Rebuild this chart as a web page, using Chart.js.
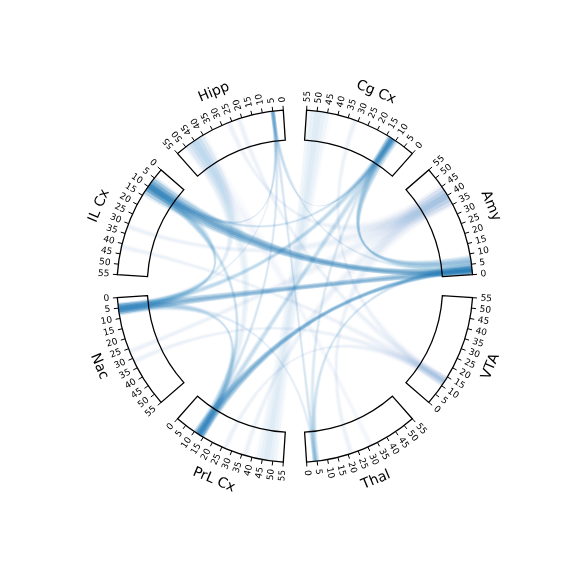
<!DOCTYPE html>
<html><head><meta charset="utf-8">
<script src="https://cdn.jsdelivr.net/npm/chart.js@4"></script>
<style>html,body{margin:0;padding:0;background:#fff}</style>
</head><body>
<canvas id="c" width="576" height="576"></canvas>
<script>
// ---- data ----
const segments = ["Amy", "Cg Cx", "Hipp", "IL Cx", "Nac", "PrL Cx", "Thal", "VTA"];
const segLength = 55;
const tickValues = [0, 5, 10, 15, 20, 25, 30, 35, 40, 45, 50, 55];
// links: source segment + range, target segment + range, strength
const linkSrc     = ["Amy","Amy","Amy","Amy","Cg Cx","Cg Cx","Cg Cx","Cg Cx","Hipp","Hipp","Hipp","Hipp","Thal","Thal","Nac","Nac","Nac","Nac","IL Cx","Cg Cx","Hipp","Hipp","Hipp",
                     "Amy","Amy","Amy","Amy","Amy","VTA","VTA","VTA","VTA","VTA"];
const linkSrcFrom = [0, 0, 1, 4, 10, 10, 11, 10, 4, 4, 4, 4, 3, 3, 3, 3, 3, 4, 8, 44, 40, 40, 40,
                     35, 35, 35, 35, 35, 10, 10, 10, 10, 10];
const linkSrcTo   = [4, 4, 4, 9, 14, 14, 13, 13, 6, 6, 6, 6, 6, 6, 8, 8, 7, 7, 12, 55, 50, 50, 50,
                     45, 45, 45, 45, 45, 15, 15, 15, 15, 15];
const linkDst     = ["IL Cx","Nac","PrL Cx","Cg Cx","PrL Cx","Nac","Hipp","IL Cx","IL Cx","Thal","PrL Cx","Amy","Amy","Cg Cx","IL Cx","PrL Cx","Thal","Hipp","PrL Cx","PrL Cx","Nac","PrL Cx","Thal",
                     "IL Cx","Nac","PrL Cx","Thal","Hipp","IL Cx","Nac","Hipp","Cg Cx","PrL Cx"];
const linkDstFrom = [5, 3, 10, 9, 11, 3, 4, 8, 8, 3, 11, 2, 3, 11, 6, 10, 3, 4, 11, 42, 3, 10, 30,
                     30, 25, 35, 20, 25, 40, 30, 20, 30, 25];
const linkDstTo   = [14, 8, 15, 14, 15, 7, 6, 11, 12, 5, 14, 5, 6, 14, 12, 15, 5, 6, 15, 52, 8, 15, 33,
                     33, 28, 38, 23, 28, 43, 33, 23, 33, 28];
const linkStrength= [0.75, 0.6, 0.7, 0.5, 0.25, 0.3, 0.18, 0.2, 0.18, 0.18, 0.18, 0.14, 0.2, 0.15, 0.3, 0.25, 0.12, 0.1, 0.22, 0.12, 0.12, 0.1, 0.06,
                     0.08, 0.08, 0.08, 0.08, 0.08, 0.08, 0.08, 0.08, 0.08, 0.08];

// ---- layout ----
const firstStartDeg = 3.75, segStepDeg = 45, segSpanDeg = 37.5;
const rOuter = 1.0, rInner = 0.83, rTick = 1.025, rTickLabel = 1.045, rName = 1.19;
const rgb = "31,119,180";

const chordPlugin = {
  id: 'chord',
  afterDatasetsDraw(chart) {
    const ctx = chart.ctx;
    const xs = chart.scales.x, ys = chart.scales.y;
    const cx = xs.getPixelForValue(0), cy = ys.getPixelForValue(0);
    const kx = xs.getPixelForValue(1) - cx, ky = cy - ys.getPixelForValue(1);
    const rad = d => d * Math.PI / 180;
    const P = (r, deg) => [xs.getPixelForValue(r * Math.cos(rad(deg))), ys.getPixelForValue(r * Math.sin(rad(deg)))];
    const segIdx = name => segments.indexOf(name);
    const ang = (seg, v) => firstStartDeg + seg * segStepDeg + v / segLength * segSpanDeg;

    function ribbon(s, a1, a2, t, b1, b2, alpha) {
      const A1 = ang(s, a1), A2 = ang(s, a2), B1 = ang(t, b1), B2 = ang(t, b2);
      ctx.beginPath();
      let p = P(rOuter, A1);
      ctx.moveTo(p[0], p[1]);
      p = P(rOuter, B2);
      ctx.quadraticCurveTo(cx, cy, p[0], p[1]);
      ctx.ellipse(cx, cy, rOuter * kx, rOuter * ky, 0, -rad(B2), -rad(B1), false);
      p = P(rOuter, A2);
      ctx.quadraticCurveTo(cx, cy, p[0], p[1]);
      ctx.ellipse(cx, cy, rOuter * kx, rOuter * ky, 0, -rad(A2), -rad(A1), false);
      ctx.closePath();
      ctx.fillStyle = `rgba(${rgb},${alpha})`;
      ctx.fill();
    }
    ctx.save();
    const layers = [[1.25, 0.15], [1.0, 0.35], [0.65, 0.33], [0.3, 0.33]];
    for (let i = 0; i < linkSrc.length; i++) {
      const s = segIdx(linkSrc[i]), t = segIdx(linkDst[i]);
      const am = (linkSrcFrom[i] + linkSrcTo[i]) / 2, aw = (linkSrcTo[i] - linkSrcFrom[i]) / 2;
      const bm = (linkDstFrom[i] + linkDstTo[i]) / 2, bw = (linkDstTo[i] - linkDstFrom[i]) / 2;
      for (const [f, k] of layers) {
        const lo = Math.max(0, am - aw * f), hi = Math.min(segLength, am + aw * f);
        const lo2 = Math.max(0, bm - bw * f), hi2 = Math.min(segLength, bm + bw * f);
        ribbon(s, lo, hi, t, lo2, hi2, linkStrength[i] * k);
      }
    }

    ctx.strokeStyle = '#000';
    ctx.fillStyle = '#000';
    for (let k = 0; k < segments.length; k++) {
      const s = ang(k, 0), e = ang(k, segLength);
      ctx.lineWidth = 1.3;
      ctx.beginPath();
      let p = P(rInner, s); ctx.moveTo(p[0], p[1]);
      p = P(rOuter, s); ctx.lineTo(p[0], p[1]);
      ctx.ellipse(cx, cy, rOuter * kx, rOuter * ky, 0, -rad(s), -rad(e), true);
      p = P(rInner, e); ctx.lineTo(p[0], p[1]);
      ctx.ellipse(cx, cy, rInner * kx, rInner * ky, 0, -rad(e), -rad(s), false);
      ctx.closePath();
      ctx.stroke();

      ctx.lineWidth = 1;
      ctx.font = '9px "DejaVu Sans"';
      for (const v of tickValues) {
        const d = ang(k, v);
        const p0 = P(rOuter, d), p1 = P(rTick, d), pl = P(rTickLabel, d);
        ctx.beginPath(); ctx.moveTo(p0[0], p0[1]); ctx.lineTo(p1[0], p1[1]); ctx.stroke();
        const dn = ((d % 360) + 360) % 360;
        const flip = dn > 135 && dn < 270;
        ctx.save();
        ctx.translate(pl[0], pl[1]);
        ctx.rotate(-rad(flip ? dn - 180 : dn));
        ctx.textAlign = flip ? 'right' : 'left';
        ctx.textBaseline = 'middle';
        ctx.fillText(String(v), 0, 0);
        ctx.restore();
      }

      const mid = ang(k, segLength / 2);
      let rot = mid - 90;
      while (rot > 180) rot -= 360;
      while (rot <= -180) rot += 360;
      if (rot > 90) rot -= 180;
      if (rot < -90) rot += 180;
      const pn = P(rName, mid);
      ctx.save();
      ctx.translate(pn[0], pn[1]);
      ctx.rotate(-rad(rot));
      ctx.font = '14px "DejaVu Sans"';
      ctx.textAlign = 'center';
      ctx.textBaseline = 'middle';
      ctx.fillText(segments[k], 0, 0);
      ctx.restore();
    }
    ctx.restore();
  }
};

new Chart(document.getElementById('c'), {
  type: 'scatter',
  data: { datasets: [{ data: [], pointRadius: 0 }] },
  options: {
    responsive: false,
    animation: false,
    devicePixelRatio: 1,
    layout: { padding: 0 },
    plugins: { legend: { display: false }, tooltip: { enabled: false } },
    scales: {
      x: { type: 'linear', min: -1.657, max: 1.579, display: false },
      y: { type: 'linear', min: -1.644, max: 1.623, display: false }
    }
  },
  plugins: [chordPlugin]
});
</script>
</body></html>
